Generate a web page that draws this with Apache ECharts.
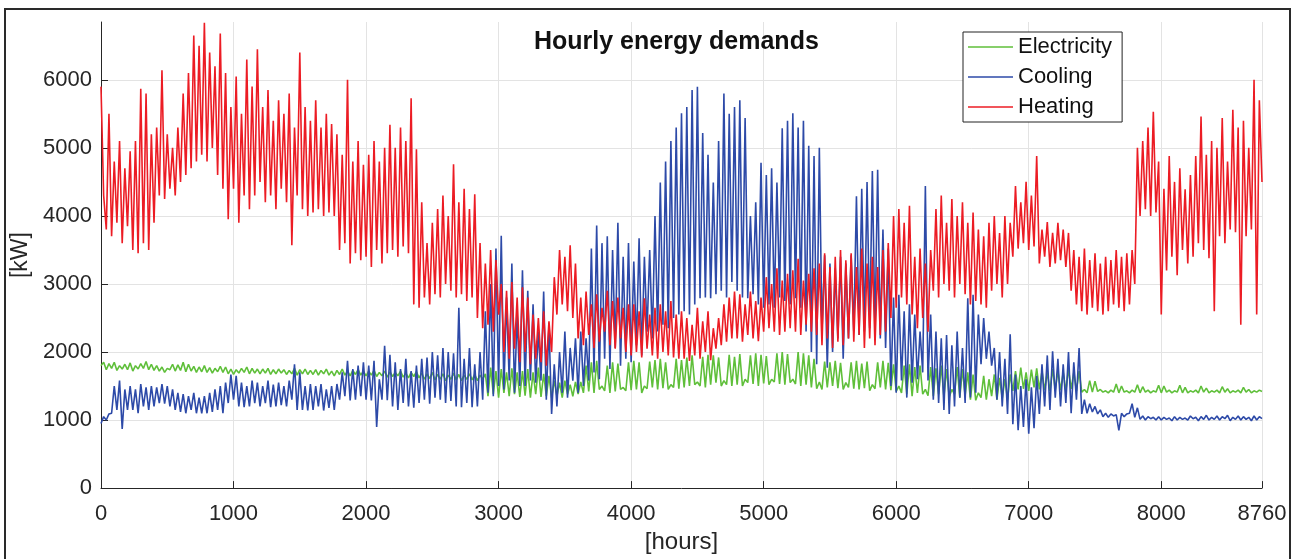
<!DOCTYPE html>
<html>
<head>
<meta charset="utf-8">
<title>Hourly energy demands</title>
<script src="https://cdn.jsdelivr.net/npm/echarts@6/dist/echarts.min.js"></script>
<style>
html, body { margin: 0; padding: 0; background: #fff; }
#main { width: 1300px; height: 559px; }
</style>
</head>
<body>
<div id="main"></div>
<script>
// readings per 40 hour bin: the low at the start of the bin, the high 20 h later
var BIN = 40;
var HOURS_MAX = 8760;

var xTicks = [0, 1000, 2000, 3000, 4000, 5000, 6000, 7000, 8000, 8760];
var yTicks = [0, 1000, 2000, 3000, 4000, 5000, 6000];

var electricityLow = [
    1800, 1740, 1760, 1730, 1750, 1740, 1720, 1750, 1760, 1740,
    1730, 1720, 1700, 1740, 1720, 1730, 1710, 1720, 1700, 1710,
    1700, 1690, 1710, 1700, 1680, 1670, 1690, 1700, 1680, 1690,
    1680, 1690, 1670, 1680, 1690, 1670, 1680, 1660, 1680, 1670,
    1670, 1660, 1680, 1660, 1650, 1670, 1660, 1650, 1670, 1660,
    1650, 1660, 1640, 1650, 1630, 1640, 1650, 1630, 1620, 1640,
    1620, 1600, 1610, 1590, 1600, 1580, 1600, 1590, 1580, 1600,
    1590, 1580, 1600, 1350, 1380, 1330, 1400, 1350, 1380, 1340,
    1360, 1330, 1380, 1340, 1350, 1330, 1350, 1330, 1380, 1350,
    1380, 1400, 1420, 1400, 1450, 1430, 1400, 1420, 1450, 1430,
    1440, 1450, 1400, 1460, 1480, 1450, 1470, 1450, 1480, 1460,
    1480, 1500, 1520, 1500, 1480, 1520, 1550, 1500, 1520, 1500,
    1520, 1500, 1550, 1530, 1500, 1540, 1520, 1560, 1530, 1520,
    1550, 1530, 1500, 1520, 1480, 1460, 1450, 1480, 1500, 1470,
    1450, 1480, 1460, 1450, 1470, 1430, 1460, 1480, 1450, 1440,
    1420, 1400, 1380, 1350, 1400, 1380, 1360, 1350, 1380, 1340,
    1340, 1380, 1330, 1360, 1300, 1290, 1330, 1300, 1350, 1300,
    1320, 1300, 1430, 1450, 1460, 1430, 1480, 1450, 1440, 1430,
    1450, 1440, 1430, 1460, 1430, 1410, 1400, 1410, 1420, 1410,
    1400, 1410, 1400, 1410, 1400, 1410, 1400, 1410, 1400, 1410,
    1400, 1410, 1400, 1410, 1400, 1400, 1410, 1400, 1410, 1400,
    1410, 1400, 1410, 1400, 1410, 1400, 1410, 1400, 1410, 1420
];
var electricityHigh = [
    1850, 1830, 1850, 1800, 1820, 1840, 1800, 1830, 1860, 1820,
    1800, 1780, 1760, 1820, 1810, 1850, 1820, 1790, 1780, 1800,
    1770, 1760, 1790, 1780, 1750, 1740, 1760, 1780, 1760, 1750,
    1750, 1760, 1740, 1750, 1740, 1730, 1760, 1740, 1750, 1730,
    1740, 1730, 1750, 1720, 1730, 1750, 1720, 1730, 1740, 1720,
    1720, 1730, 1700, 1720, 1710, 1700, 1720, 1690, 1700, 1710,
    1690, 1680, 1700, 1670, 1680, 1660, 1690, 1670, 1660, 1680,
    1670, 1660, 1680, 1770, 1720, 1750, 1700, 1760, 1700, 1720,
    1750, 1700, 1770, 1680, 1650, 1580, 1550, 1580, 1520, 1560,
    1560, 1800, 1850, 1870, 1500, 1800, 1850, 1830, 1480, 1850,
    1870, 1850, 1500, 1860, 1880, 1900, 1850, 1520, 1900, 1880,
    1920, 1950, 1560, 1930, 1960, 1950, 1920, 1580, 1960, 1930,
    1970, 1600, 1950, 1980, 1960, 1940, 1600, 1980, 2000, 1970,
    1600, 2000, 1980, 1950, 1900, 1560, 1860, 1850, 1870, 1840,
    1550, 1850, 1870, 1830, 1860, 1520, 1850, 1870, 1840, 1820,
    1500, 1800, 1820, 1780, 1800, 1450, 1780, 1760, 1800, 1750,
    1450, 1780, 1750, 1700, 1670, 1400, 1650, 1600, 1670, 1620,
    1600, 1670, 1720, 1770, 1700, 1740, 1760, 1720, 1700, 1750,
    1720, 1700, 1750, 1700, 1720, 1450, 1580, 1570, 1450, 1430,
    1440, 1530, 1500, 1430, 1440, 1520, 1490, 1440, 1430, 1510,
    1500, 1440, 1430, 1510, 1480, 1430, 1440, 1500, 1470, 1430,
    1440, 1490, 1460, 1430, 1440, 1480, 1450, 1430, 1440, 1430
];

var coolingLow = [
    950, 1000, 1100, 1150, 870, 1150, 1150, 1100, 1200, 1150,
    1200, 1250, 1240, 1200, 1150, 1120, 1100, 1150, 1100, 1100,
    1100, 1120, 1150, 1100, 1250, 1300, 1200, 1190, 1200, 1250,
    1200, 1250, 1190, 1200, 1220, 1200, 1300, 1150, 1150, 1140,
    1150, 1200, 1140, 1180, 1150, 1300, 1350, 1290, 1300, 1350,
    1300, 1290, 900, 1300, 1290, 1200, 1150, 1250, 1200, 1180,
    1250, 1300, 1240, 1330, 1300, 1250, 1280, 1200, 1190, 1250,
    1190, 1200, 1300, 1400, 1350, 1500, 1450, 1580, 1400, 1500,
    1500, 1580, 1550, 1580, 1300, 1090, 1200, 1400, 1330, 1580,
    1400, 1500, 1580, 1700, 1600, 1900, 1750, 2060, 1800, 1900,
    1850, 2100, 1950, 2300, 2200, 2300, 2400, 2350, 2500, 2550,
    2600, 2550, 2700, 2790, 2800, 2790, 2850, 2900, 2800, 3030,
    2900, 2800, 2790, 2850, 2700, 2650, 2700, 2650, 2800, 2750,
    2700, 2790, 2650, 2300, 2000, 1820, 2300, 1770, 2000, 2200,
    1900, 2200, 2300, 2250, 2300, 2350, 2300, 2200, 2060, 1500,
    1400, 1580, 1330, 1550, 1600, 1700, 1580, 1300, 1250, 1150,
    1090, 1200, 1330, 1250, 1330, 1400, 1820, 1900, 1800, 1300,
    1200, 1090, 940, 850, 900, 800, 880, 1090, 1200, 1150,
    1330, 1200, 1250, 1100, 1300, 1090, 1100, 1120, 1090, 1050,
    1040, 1060, 850, 1050, 1100, 1040, 1010, 1000, 1020, 1000,
    1000, 1010, 990, 1000, 1010, 1000, 1020, 990, 1010, 1000,
    1010, 1000, 1020, 990, 1010, 1000, 1010, 990, 1000, 1020
];
var coolingHigh = [
    1050, 1090, 1500, 1580, 1450, 1500, 1450, 1530, 1480, 1500,
    1480, 1530, 1500, 1450, 1400, 1380, 1350, 1400, 1330, 1350,
    1400, 1450, 1500, 1550, 1670, 1650, 1550, 1500, 1580, 1550,
    1500, 1580, 1520, 1550, 1500, 1580, 1820, 1700, 1500, 1530,
    1500, 1530, 1450, 1500, 1530, 1700, 1870, 1750, 1800, 1850,
    1800, 1870, 1600, 2090, 1960, 1850, 1750, 1900, 1720, 1800,
    1900, 1920, 2000, 1950, 2060, 2000, 1980, 2650, 1900, 2060,
    1820, 2000, 2600, 3000, 3520, 3710, 2800, 3300, 2550, 3200,
    2900, 2700, 2300, 2890, 2400, 1820, 2000, 2300, 2060, 2200,
    2300, 2200, 3520, 3860, 3600, 3700, 3500, 3900, 3400, 3600,
    3330, 3670, 3400, 3500, 4000, 4490, 4800, 5100, 5300, 5510,
    5600, 5850, 5900, 5220, 4900, 4490, 5100, 5800, 5500, 5600,
    5700, 5440, 4000, 4200, 4780, 4600, 4700, 4490, 5290, 5400,
    5510, 5300, 5400, 5030, 4880, 5000, 3420, 3300, 3230, 3400,
    3300, 3420, 4290, 4400, 4500, 4660, 4680, 3800, 3520, 2800,
    2840, 2600, 2700, 2550, 2300, 4440, 2550, 2300, 2200, 2250,
    2100, 2300, 2060, 2790, 2840, 2550, 2500, 2300, 2060, 2000,
    1900, 2260, 1670, 1500, 1600, 1480, 1650, 1820, 1950, 2010,
    1900, 1820, 2000, 1850, 2060, 1300, 1240, 1200, 1150, 1100,
    1090, 1080, 1100, 1090, 1240, 1180, 1060, 1050, 1040, 1050,
    1040, 1030, 1050, 1040, 1030, 1060, 1040, 1050, 1070, 1040,
    1060, 1050, 1070, 1040, 1060, 1050, 1040, 1060, 1050, 1030
];

var heatingLow = [
    5900, 3800, 3700, 3900, 3600, 3850, 3500, 3450, 3600, 3500,
    3900, 4300, 4250, 4400, 4300, 4500, 4600, 4700, 4800, 4900,
    4800, 5000, 4600, 4400, 3950, 4400, 3900, 4300, 4100, 4300,
    4500, 4200, 4300, 4100, 4400, 4200, 3570, 4300, 4100, 4000,
    4050, 4100, 4000, 4050, 4000, 3500, 3600, 3300, 3450, 3350,
    3400, 3250, 3500, 3300, 3450, 3500, 3400, 3550, 3450, 2700,
    2650, 2800, 2700, 2850, 2800, 3000, 2900, 2800, 2850, 2750,
    2800, 2500, 2350, 2400, 2300, 2550, 2000, 1900, 2050, 1850,
    2000, 1820, 1900, 1850, 1800, 2000, 2550, 2700, 2600, 2500,
    2200, 2100, 2250, 2060, 2150, 2300, 2100, 2050, 2200, 2000,
    1950, 2000, 1920, 2050, 1950, 1900, 2000, 1950, 1920, 1900,
    1900, 1870, 1950, 1900, 2000, 1880, 2050, 2100, 2150, 2200,
    2200, 2150, 2250, 2200, 2160, 2300, 2350, 2300, 2250, 2300,
    2350, 2300, 2250, 2400, 2300, 2250, 2100, 2200, 2060, 2150,
    2100, 2200, 2150, 2250, 2060, 2200, 2100, 2250, 2300, 2500,
    2650, 2800, 2700, 2550, 2350, 2500, 2300, 2900, 2800, 3000,
    2900, 2800, 3000, 2850, 2700, 2750, 2700, 2650, 2900, 3000,
    2800, 3000, 3400, 3520, 3600, 3500, 3550, 3300, 3400, 3250,
    3300, 3350, 3250, 2900, 2700, 2600, 2550, 2650, 2600, 2550,
    2600, 2700, 2650, 2600, 2700, 3000, 4000, 4100, 4000, 4050,
    2550, 3200, 3400, 3130, 3500, 3300, 3400, 3600, 3500, 3380,
    2600, 3700, 3600, 3800, 3760, 2400, 3700, 3800, 2550, 4500
];
var heatingHigh = [
    4300, 5500, 4800, 5100, 4700, 4950, 5100, 5870, 5800, 5200,
    5300, 6140, 5200, 5000, 5300, 5800, 6100, 6650, 6500, 6840,
    6400, 6200, 6680, 6100, 5600, 6050, 5500, 6300, 5900, 6450,
    5600, 5850, 5400, 5700, 5500, 5800, 5300, 6400, 5600, 5400,
    5700, 5300, 5500, 5350, 5200, 4900, 6000, 4800, 5100, 4750,
    4900, 5100, 4800, 5000, 5340, 5000, 5300, 5100, 5730, 4980,
    4200, 3600, 3900, 4100, 4300, 4000, 4760, 4200, 4400, 4100,
    4320, 3600, 3300, 3500, 3350, 3000, 2900, 3030, 2800, 2950,
    2800, 2550, 2500, 2600, 2450, 3100, 3500, 3400, 3570, 3300,
    2800, 2890, 2700, 2850, 2650, 2900, 2750, 2800, 2650, 2700,
    2700, 2600, 2790, 2550, 2650, 2700, 2600, 2750, 2550, 2600,
    2500, 2400, 2650, 2450, 2600, 2350, 2500, 2700, 2800, 2890,
    2850, 2700, 2890, 2750, 2800, 3100, 3000, 3230, 3050, 3150,
    3200, 3370, 3050, 3150, 3230, 3300, 3450, 3250, 3400, 3500,
    3350, 3450, 3250, 3520, 3300, 3400, 3250, 3500, 3600, 4000,
    4100, 3900, 4150, 3400, 3520, 3300, 3500, 4100, 4300, 3900,
    4250, 4000, 4200, 3900, 4050, 3800, 3700, 3900, 4000, 3750,
    4000, 3900, 4440, 4200, 4500, 4300, 4880, 3800, 3910, 3750,
    3900, 3800, 3750, 3500, 3400, 3520, 3350, 3450, 3300, 3400,
    3350, 3500, 3400, 3450, 3500, 5000, 5100, 5300, 5530, 4800,
    4400, 4880, 4500, 4700, 4390, 4600, 4880, 5460, 4900, 5100,
    5000, 5440, 4800, 5560, 5300, 5400, 5000, 6000, 5700, 4500
];

var seriesNames = ['Electricity', 'Cooling', 'Heating'];
var seriesColors = ['#5fbf3a', '#2d4aa8', '#ec1c24'];

// low at the bin start, high at the middle of the bin
var toPoints = function(lows, highs) {
    var res = [];
    for (var i = 0; i < lows.length; i++) {
        var h = i * BIN;
        if (h <= HOURS_MAX) res.push([h, lows[i]]);
        if (h + BIN / 2 <= HOURS_MAX) res.push([h + BIN / 2, highs[i]]);
    }
    return res;
};

var series = [];
[
    [electricityLow, electricityHigh],
    [coolingLow, coolingHigh],
    [heatingLow, heatingHigh]
].forEach(function(item, i) {
    series.push({
        name: seriesNames[i],
        type: 'line',
        symbol: 'none',
        lineStyle: {
            color: seriesColors[i],
            width: 1.6
        },
        itemStyle: {
            color: seriesColors[i]
        },
        data: toPoints(item[0], item[1])
    });
});

var plainNumber = function(v) {
    return String(v);
};

var option = {
    backgroundColor: '#fff',
    animation: false,
    textStyle: {
        fontFamily: 'Liberation Sans'
    },
    title: {
        text: 'Hourly energy demands',
        left: 534,
        top: 30,
        padding: 0,
        textStyle: {
            color: '#111',
            fontFamily: 'Liberation Sans',
            fontWeight: 'bold',
            fontSize: 25
        }
    },
    legend: {
        data: seriesNames.map(function(n) {
            return { name: n, icon: 'rect' };
        }),
        orient: 'vertical',
        left: 963,
        top: 32,
        padding: [4, 10, 4, 5],
        itemWidth: 45,
        itemHeight: 1.5,
        itemGap: 8,
        backgroundColor: '#fff',
        borderColor: '#222',
        borderWidth: 1,
        borderRadius: 0,
        textStyle: {
            color: '#111',
            fontFamily: 'Liberation Sans',
            fontSize: 22
        }
    },
    grid: {
        left: 101,
        right: 38,
        top: 22,
        bottom: 69
    },
    xAxis: {
        type: 'value',
        min: 0,
        max: HOURS_MAX,
        interval: 1000,
        name: '[hours]',
        nameLocation: 'middle',
        nameGap: 36,
        nameTextStyle: {
            color: '#262626',
            fontFamily: 'Liberation Sans',
            fontSize: 24
        },
        axisLine: {
            onZero: false,
            lineStyle: { color: '#262626', width: 1 }
        },
        axisTick: {
            inside: true,
            length: 7,
            customValues: xTicks,
            lineStyle: { color: '#262626' }
        },
        axisLabel: {
            margin: 15,
            customValues: xTicks,
            formatter: plainNumber,
            color: '#262626',
            fontFamily: 'Liberation Sans',
            fontSize: 22
        },
        splitLine: {
            show: true,
            lineStyle: { color: '#e3e3e3', width: 1 }
        }
    },
    yAxis: {
        type: 'value',
        min: 0,
        max: 6850,
        interval: 1000,
        name: '[kW]',
        nameLocation: 'middle',
        nameGap: 68,
        nameTextStyle: {
            color: '#262626',
            fontFamily: 'Liberation Sans',
            fontSize: 23
        },
        axisLine: {
            show: true,
            lineStyle: { color: '#262626', width: 1 }
        },
        axisTick: {
            show: true,
            inside: true,
            length: 7,
            customValues: yTicks,
            lineStyle: { color: '#262626' }
        },
        axisLabel: {
            margin: 9,
            customValues: yTicks,
            formatter: plainNumber,
            color: '#262626',
            fontFamily: 'Liberation Sans',
            fontSize: 22
        },
        splitLine: {
            show: true,
            lineStyle: { color: '#e3e3e3', width: 1 }
        }
    },
    graphic: [{
        type: 'rect',
        silent: true,
        shape: { x: 5, y: 9, width: 1285, height: 570 },
        style: { fill: 'none', stroke: '#2a2a2a', lineWidth: 2 }
    }],
    series: series
};

var chart = echarts.init(document.getElementById('main'));
chart.setOption(option);
</script>
</body>
</html>
